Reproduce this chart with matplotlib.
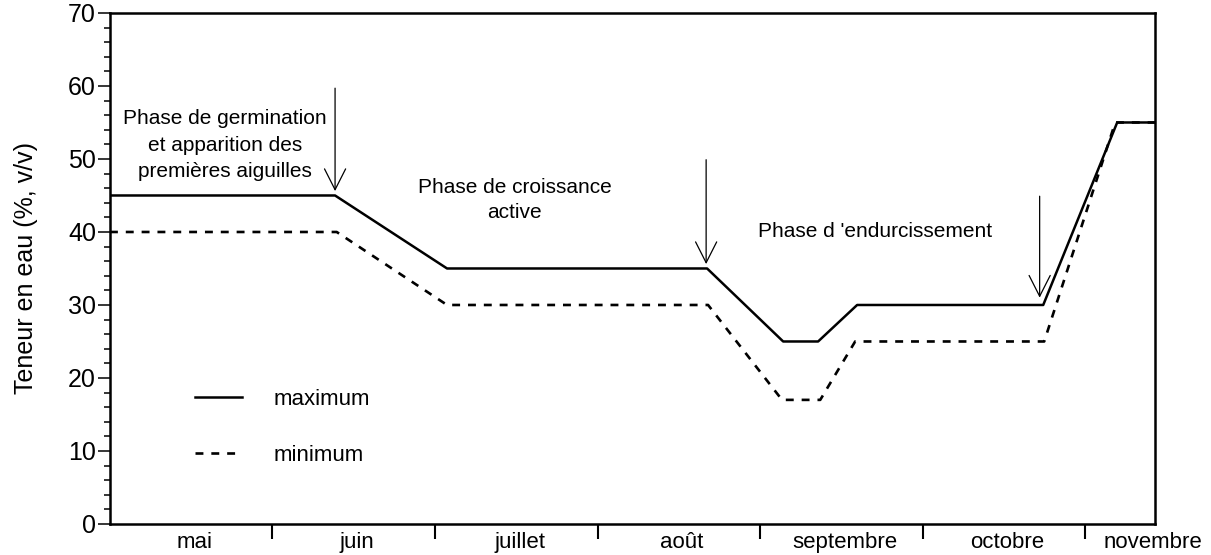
import numpy as np
import matplotlib.pyplot as plt
import matplotlib.transforms as mtransforms

plt.rcParams['font.family'] = ['Liberation Sans', 'DejaVu Sans']

# mois (abscisse en mois depuis début mai)
mois = ['mai', 'juin', 'juillet', 'août', 'septembre', 'octobre', 'novembre']

# teneur en eau maximale et minimale
max_x = [0, 1.385, 2.074, 3.674, 4.142, 4.357, 4.597, 5.742, 6.197, 6.43]
max_y = [45, 45, 35, 35, 25, 25, 30, 30, 55, 55]
min_x = [0, 1.395, 2.074, 3.68, 4.135, 4.37, 4.585, 5.748, 6.185, 6.43]
min_y = [40, 40, 30, 30, 17, 17, 25, 25, 55, 55]

# flèches des changements de phase (x, y début, y fin)
fleches_x = [1.385, 3.668, 5.72]
fleches_y0 = [59.7, 49.9, 44.9]
fleches_y1 = [45.6, 35.6, 31.0]

fig = plt.figure(figsize=(12.11, 5.55), dpi=100)
ax = fig.add_axes([0.0908, 0.0559, 0.8630, 0.9207])

ax.plot(max_x, max_y, color='black', lw=1.8, label='maximum')
ax.plot(min_x, min_y, color='black', lw=1.9, dashes=(3, 3), label='minimum')

for x, y0, y1 in zip(fleches_x, fleches_y0, fleches_y1):
    ax.annotate('', xy=(x, y1), xytext=(x, y0),
                arrowprops=dict(arrowstyle='->,head_length=0.75,head_width=0.38',
                                color='black', lw=0.9, mutation_scale=20,
                                shrinkA=0, shrinkB=0))

ax.text(0.708, 51.9, 'Phase de germination\net apparition des\npremières aiguilles',
        ha='center', va='center', fontsize=15, linespacing=1.48)
ax.text(2.49, 44.4, 'Phase de croissance\nactive',
        ha='center', va='center', fontsize=15, linespacing=1.42)
ax.text(4.71, 40.0, "Phase d 'endurcissement",
        ha='center', va='center', fontsize=15)

ax.set_xlim(0, 6.43)
ax.set_ylim(0, 70)

# axe y
ax.set_yticks(np.arange(0, 71, 10))
ax.set_yticks(np.arange(0, 71, 2), minor=True)
ax.tick_params(axis='y', which='major', direction='out', length=9, width=1.1, pad=1, labelsize=18)
ax.tick_params(axis='y', which='minor', direction='out', length=4.5, width=1.1)
ax.set_ylabel('Teneur en eau (%, v/v)', fontsize=18, labelpad=22)

# axe x : séparations entre les mois, noms au centre (novembre gardé dans la figure)
ax.set_xticks(np.arange(1, 7))
ax.set_xticklabels([])
ax.tick_params(axis='x', which='major', direction='out', length=11, width=1.5)
trans = mtransforms.blended_transform_factory(ax.transData, ax.transAxes)
label_x = np.minimum(np.arange(len(mois)) + 0.52, 6.42)
for x, m in zip(label_x, mois):
    ax.text(x, -0.016, m, transform=trans, ha='center', va='top',
            fontsize=16, clip_on=False)

for s in ax.spines.values():
    s.set_linewidth(1.8)

ax.legend(loc='upper left', bbox_to_anchor=(0.081, 0.265), frameon=False,
          fontsize=16, handlelength=2.15, handletextpad=1.4, labelspacing=1.6,
          borderpad=0, borderaxespad=0)

fig.savefig('out.png', dpi=100)
